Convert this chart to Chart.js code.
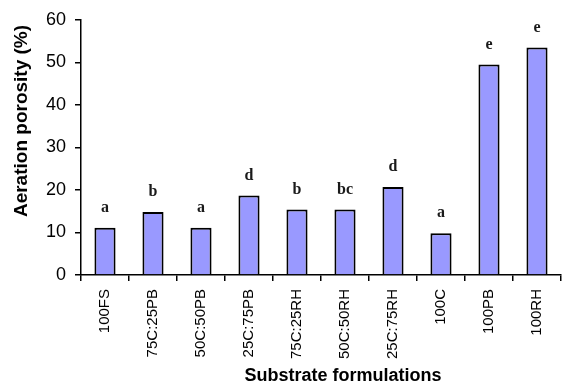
<!DOCTYPE html>
<html>
<head>
<meta charset="utf-8">
<script src="https://cdn.jsdelivr.net/npm/chart.js@4"></script>
<style>
  body { margin: 0; background: #fff; }
  #wrap { width: 563px; height: 387px; }
</style>
</head>
<body>
<div id="wrap"><canvas id="porosityChart" width="563" height="387"></canvas></div>
<script>
// Data
const formulations = ["100FS", "75C:25PB", "50C:50PB", "25C:75PB", "75C:25RH", "50C:50RH", "25C:75RH", "100C", "100PB", "100RH"];
const porosity = [11.1, 14.8, 11.1, 18.7, 15.4, 15.4, 20.7, 9.8, 49.5, 53.5];
const groups = ["a", "b", "a", "d", "b", "bc", "d", "a", "e", "e"];
const yTicks = [0, 10, 20, 30, 40, 50, 60];

// letters above bars + axis titles
const annotations = {
    id: 'annotations',
    afterDatasetsDraw(chart) {
        const ctx = chart.ctx;
        const meta = chart.getDatasetMeta(0);
        ctx.save();
        ctx.fillStyle = '#1a1a1a';
        ctx.font = 'bold 16px "Liberation Serif", "Times New Roman", serif';
        ctx.textAlign = 'center';
        ctx.textBaseline = 'middle';
        meta.data.forEach((bar, i) => {
            ctx.fillText(groups[i], bar.x, bar.y - 20);
        });

        ctx.fillStyle = '#000';
        ctx.font = 'bold 18px "Liberation Sans", Arial, sans-serif';
        ctx.fillText('Substrate formulations', 343, 376);

        ctx.font = 'bold 19px "Liberation Sans", Arial, sans-serif';
        ctx.translate(22, 121);
        ctx.rotate(-Math.PI / 2);
        ctx.fillText('Aeration porosity (%)', 0, 0);
        ctx.restore();
    }
};

const ctx = document.getElementById('porosityChart').getContext('2d');
new Chart(ctx, {
    type: 'bar',
    data: {
        labels: formulations,
        datasets: [{
            data: porosity,
            backgroundColor: '#9999ff',
            borderColor: '#000',
            borderWidth: 2,
            categoryPercentage: 1,
            barPercentage: 0.44
        }]
    },
    options: {
        responsive: false,
        animation: false,
        layout: { padding: { top: 15, right: 0, bottom: 0, left: 0 } },
        plugins: {
            legend: { display: false },
            tooltip: { enabled: false }
        },
        scales: {
            x: {
                afterFit: scale => { scale.height = 112; },
                grid: { display: true, drawOnChartArea: false, offset: true, tickLength: 6, color: '#000', lineWidth: 1.5 },
                border: { color: '#000', width: 1.5 },
                ticks: {
                    color: '#000',
                    minRotation: 90,
                    maxRotation: 90,
                    padding: 8,
                    font: { family: '"Liberation Sans", Arial, sans-serif', size: 15 }
                }
            },
            y: {
                min: 0,
                max: 60,
                afterFit: scale => { scale.width = 81; },
                afterBuildTicks: scale => { scale.ticks = yTicks.map(v => ({ value: v })); },
                grid: { display: true, drawOnChartArea: false, tickLength: 6, color: '#000', lineWidth: 1.5 },
                border: { color: '#000', width: 1.5 },
                ticks: {
                    color: '#000',
                    padding: 9,
                    font: { family: '"Liberation Sans", Arial, sans-serif', size: 18 }
                }
            }
        }
    },
    plugins: [annotations]
});
</script>
</body>
</html>
